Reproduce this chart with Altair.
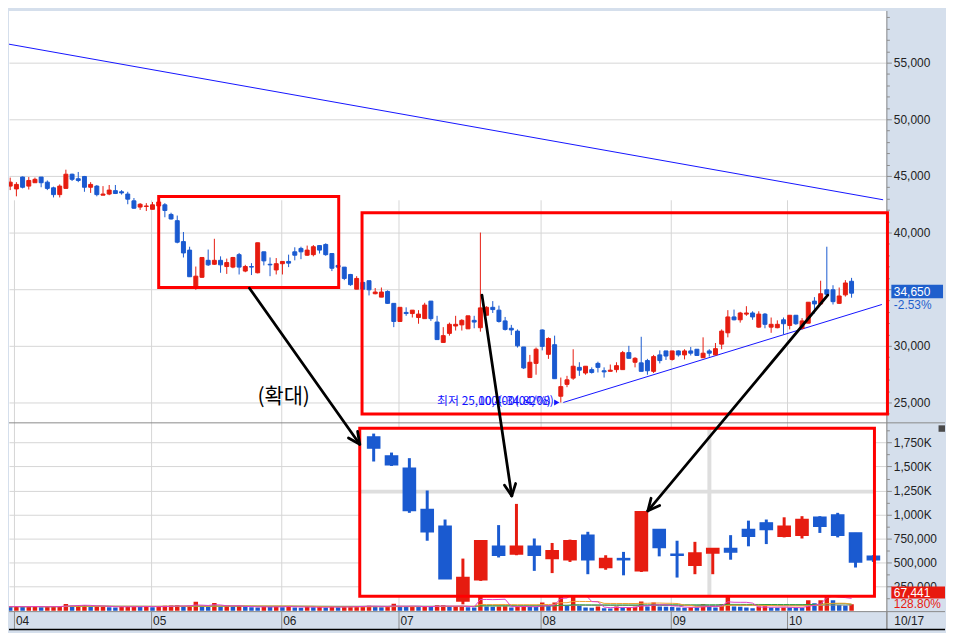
import math
import numpy as np
import pandas as pd
import altair as alt

# ---------------- values ----------------
opens = [44400, 44100, 43850, 44900, 44100, 44400, 44900, 44450, 43950, 43350,
         43900, 45150, 44750, 44950, 44000, 44100, 43300, 43400, 43700, 43600,
         43400, 42800, 42250, 42300, 42050, 42350, 42450, 41600, 41050, 39200,
         38450, 35100, 36050, 37550, 37200, 37550, 37000, 36950, 38050, 36600,
         37000, 36450, 38300, 37200, 36700, 37250, 37450, 38300, 38600, 38000,
         38050, 38850, 38950, 38150, 37100, 36950, 36300, 35000, 35600, 35750,
         34600, 34300, 34800, 33750, 32150, 32950, 32850, 32500, 32400, 33950,
         32100, 30300, 31100, 31750, 31850, 31500, 32250, 31600, 32700, 33400,
         33150, 32200, 31550, 31300, 29900, 27200, 28450, 31400, 29250, 30100,
         25550, 26600, 27150, 28100, 27600, 27900, 28450, 27800, 27750, 27900,
         27900, 29400, 28550, 28500, 28700, 27750, 29200, 29550, 28800, 29550,
         29200, 29550, 29700, 28950, 29550, 29200, 30150, 31150, 32550, 32300,
         32800, 32900, 31650, 32800, 31650, 31600, 32300, 31800, 32700, 31550,
         32000, 33950, 33700, 34950, 34950, 33750, 34500, 35700]
highs = [44600, 44850, 44450, 44950, 44900, 44850, 44900, 44600, 44050, 44250,
         45550, 45200, 45350, 45000, 44450, 44200, 44100, 44200, 44200, 43750,
         43600, 43050, 42600, 42600, 42700, 43150, 42600, 41750, 41500, 40050,
         38750, 37000, 37800, 38500, 39450, 37900, 37700, 37850, 38200, 37150,
         37300, 39100, 38300, 37800, 37750, 37450, 38050, 38700, 38750, 38850,
         38900, 38900, 39050, 38150, 37150, 36950, 36350, 36150, 35650, 35750,
         35100, 35150, 34900, 33750, 33400, 33400, 33150, 33150, 33800, 33950,
         32650, 31650, 32050, 32650, 32350, 32650, 32650, 40000, 33500, 33950,
         33550, 32550, 31850, 31450, 29900, 29200, 29850, 31450, 30750, 30900,
         27200, 27350, 29700, 28550, 28200, 28100, 28600, 28100, 28350, 28550,
         29550, 30000, 29000, 30800, 28850, 29200, 29600, 29550, 29550, 29600,
         29700, 29900, 29700, 30750, 29700, 30250, 31450, 33150, 33200, 33000,
         33500, 33050, 33050, 32900, 32500, 32250, 32500, 32700, 32700, 32450,
         33850, 34300, 35750, 38750, 35350, 35150, 35800, 36000]
lows = [43750, 43750, 43200, 43900, 43800, 44400, 44000, 43750, 43100, 43100,
        43900, 44550, 44450, 43600, 43500, 43200, 43300, 43300, 43400, 43350,
        42500, 42100, 42000, 41900, 42050, 42350, 41350, 41150, 39050, 37800,
        36100, 34950, 36000, 37050, 37150, 36450, 36350, 36850, 36300, 36500,
        36250, 36400, 37100, 36150, 36300, 36300, 36950, 37550, 37650, 37950,
        37900, 38150, 37950, 36600, 36850, 35800, 35300, 35000, 34950, 34450,
        34550, 34300, 33700, 31650, 32150, 32650, 32500, 31950, 32400, 32200,
        30550, 30300, 30900, 31350, 31350, 31500, 31550, 31250, 32700, 32900,
        32050, 31350, 30950, 29850, 27950, 27200, 27450, 29600, 28850, 27100,
        25000, 26350, 27000, 27350, 27450, 27550, 27650, 27200, 27750, 27650,
        27900, 28900, 28100, 27750, 27450, 27600, 28450, 28750, 28700, 29050,
        28800, 29150, 29150, 28950, 29050, 29200, 29700, 30750, 32250, 32050,
        32650, 32300, 31600, 31550, 31150, 31550, 31000, 31450, 31850, 31450,
        32000, 32850, 33650, 34450, 33650, 33700, 34350, 34250]
closes = [44200, 44450, 44250, 44000, 44600, 44700, 44400, 43900, 43350, 44100,
          45150, 44700, 44600, 44000, 44250, 43350, 43400, 43750, 43450, 43500,
          42950, 42150, 42500, 42350, 42450, 42700, 41950, 41200, 39150, 38200,
          36100, 36150, 37800, 37150, 37550, 37150, 37350, 37800, 36950, 37000,
          36950, 39100, 37500, 37150, 37250, 37450, 37300, 38000, 38300, 38450,
          38750, 38450, 38050, 36850, 36950, 35950, 35400, 35950, 35000, 34950,
          34750, 34750, 33750, 32150, 33400, 32850, 33150, 32800, 33600, 32400,
          30550, 30900, 31900, 31900, 32250, 32650, 32100, 33350, 33400, 33200,
          32150, 31450, 31400, 30000, 28050, 28550, 29700, 29950, 30650, 27100,
          26400, 27000, 28200, 27850, 28200, 27650, 28100, 27700, 27850, 28250,
          29400, 28900, 28900, 27750, 27800, 29050, 28700, 29100, 29550, 29200,
          29550, 29350, 29150, 29350, 29350, 29750, 31300, 32550, 32300, 32900,
          32900, 32550, 32800, 31900, 31900, 31900, 31950, 32700, 31950, 32200,
          33850, 33700, 34600, 34550, 33900, 34400, 35550, 34650]
volumes = [42000, 40000, 45000, 38000, 44000, 46000, 36000, 40000, 43000, 47000,
           69000, 52000, 55000, 58000, 40000, 44000, 47000, 36000, 33000, 41000,
           45000, 48000, 37000, 42000, 36000, 45000, 50000, 53000, 56000, 40000,
           52000, 93000, 45000, 38000, 79000, 40000, 50000, 42000, 48000, 38000,
           36000, 34000, 44000, 38000, 46000, 36000, 48000, 33000, 31000, 40000,
           35000, 38000, 34000, 41000, 36000, 40000, 44000, 47000, 49000, 52000,
           40000, 36000, 44000, 72000, 41000, 37000, 45000, 39000, 47000, 42000,
           55000, 56000, 38000, 44000, 48000, 36000, 34000, 420000, 43000, 40000,
           44000, 47000, 33000, 44000, 45000, 40000, 38000, 84000, 50000, 84000,
           380000, 60000, 300000, 50000, 33000, 31000, 43000, 26000, 22000, 43000,
           33000, 36000, 40000, 95000, 43000, 84000, 43000, 40000, 38000, 33000,
           31000, 35000, 33000, 67000, 43000, 33000, 67000, 250000, 43000, 40000,
           33000, 26000, 43000, 45000, 33000, 31000, 34000, 32000, 30000, 28000,
           108000, 77000, 108000, 350000, 108000, 60000, 52361, 67441]

month_grid_idx = [1.61, 23.77, 44.81, 63.76, 86.73, 107.77, 126.56]
month_labels = ["04", "05", "06", "07", "08", "09", "10"]
last_date = "10/17"
price_ticks = [25000, 30000, 35000, 40000, 45000, 50000, 55000, 60000]
vol_ticks = [250000, 500000, 750000, 1000000, 1250000, 1500000, 1750000]

trend_a_idx = [-0.16, 142.1]
trend_a_price = [56725, 42895]
trend_b_idx = [90.4, 141.9]
trend_b_price = [25000, 33650]
low_idx = 90
low_price = 25000
low_label_a = "최저 25,000(-34.82%)"
low_label_b = "10,400(04/08)"

box1_idx = [25.0, 54.1]
box1_price = [35150, 43180]
box2_idx = [57.87, 142.8]
box2_price = [23973, 41754]
inset_idx = [25.22, 54.06]
inset_price = [35313, 42837]
zoom_note = "(확대)"

# ---------------- layout (reference pixels -> chart pixels) ----------------
# the page adds an 8px margin, so the plot starts at reference pixel (8, 8)
REF_X0, REF_Y0 = 8.0, 8.0
REF_X1, REF_Y1 = 891.0, 612.0
W, H = int(REF_X1 - REF_X0), int(REF_Y1 - REF_Y0)


def px(x):
    return x - REF_X0


def py(y):
    return y - REF_Y0


STEP, X_FIRST = 6.226, 3.0


def idx_at(x):
    return (x - X_FIRST) / STEP


def price_at(y):
    return 40000 - (y - 231.0) * 5000 / 57.0


def vol_at(y):
    return (611.5 - y) * 250000 / 24.17


X_MIN, X_MAX = idx_at(REF_X0), idx_at(REF_X1)
P_MIN, P_MAX = price_at(422.0), price_at(REF_Y0)
V_MAX = vol_at(422.0)

RED, BLUE = "#e61c10", "#1a5ad0"
BOX_RED = "#ff0000"
LINE_BLUE = "#1414ff"
GRID = "#d6d6d6"
AXIS_GRAY = "#8c8c8c"
LABEL = "#222222"
NUM_FONT = "Liberation Sans"
KR_FONT = "Noto Sans CJK KR"


def lin(domain, rng):
    return alt.Scale(domain=list(domain), range=list(rng), nice=False, zero=False)


sx = lin([X_MIN, X_MAX], [0, W])
sy_price = lin([P_MIN, P_MAX], [py(422.0), 0])
sy_vol = lin([0, V_MAX], [py(611.5), py(422.0)])
sx_in = lin(inset_idx, [px(361.0), px(879.0)])
sy_in = lin(inset_price, [py(597.0), py(428.0)])
sx_pix = lin([REF_X0, REF_X1], [0, W])
sy_pix = lin([REF_Y0, REF_Y1], [0, H])

n = len(opens)
df = pd.DataFrame({"i": np.arange(n), "o": opens, "h": highs, "l": lows, "c": closes, "v": volumes})
df["dir"] = np.where(df["c"] >= df["o"], "up", "down")
df["vdir"] = ["down"] + ["up" if volumes[k] > volumes[k - 1] else "down" for k in range(1, n)]
base = alt.Chart(df)
dir_scale = alt.Scale(domain=["up", "down"], range=[RED, BLUE])

COMMA = "format(datum.value, ',')"
x_axis = alt.Axis(orient="bottom", values=month_grid_idx + [X_MAX], labels=False, ticks=True,
                  tickSize=py(630.0) - py(612.5), tickColor=AXIS_GRAY, domain=False,
                  grid=True, gridColor=GRID, title=None)
price_axis = alt.Axis(orient="right", values=[p for p in price_ticks if P_MIN < p < P_MAX],
                      labelExpr=COMMA, labelFont=NUM_FONT,
                      labelFontSize=12, labelColor=LABEL, tickSize=5, tickColor=AXIS_GRAY,
                      labelPadding=2, domain=False, grid=True, gridColor=GRID, title=None,
                      labelOverlap=False, labelBound=False, labelFlush=False)
price_minor_axis = alt.Axis(orient="right",
                            values=[p for p in range(24000, 60001, 1000) if p % 5000 and P_MIN < p < P_MAX],
                            labels=False, tickSize=3, tickColor=AXIS_GRAY, domain=False,
                            grid=False, title=None)
vol_axis = alt.Axis(orient="right", values=vol_ticks,
                    labelExpr="datum.value >= 1000000 ? format(datum.value / 1000, ',') + 'K' : format(datum.value, ',')",
                    labelFont=NUM_FONT, labelFontSize=12, labelColor=LABEL, tickSize=5,
                    tickColor=AXIS_GRAY, labelPadding=2, domain=False, grid=True, gridColor=GRID,
                    title=None, labelOverlap=False)
vol_minor_axis = alt.Axis(orient="right", values=[125000 + 250000 * k for k in range(8)],
                          labels=False, tickSize=3, tickColor=AXIS_GRAY, domain=False,
                          grid=False, title=None)

layers = []

# volume bars + moving averages
layers.append(base.transform_calculate(x0="datum.i - 0.36", x1="datum.i + 0.36", zero="0")
              .mark_rect(clip=True).encode(
                  x=alt.X("x0:Q", scale=sx, axis=None), x2="x1:Q",
                  y=alt.Y("v:Q", scale=sy_vol, axis=vol_axis), y2="zero:Q",
                  color=alt.Color("vdir:N", scale=dir_scale, legend=None)))
for k, col in [(120, "#8c8c8c"), (60, "#2e9e3e"), (20, "#f0a030"), (5, "#e040c8")]:
    layers.append(base.transform_window(ma="mean(v)", frame=[-(k - 1), 0], sort=[alt.SortField("i")])
                  .mark_line(strokeWidth=1, color=col, clip=True).encode(
                      x=alt.X("i:Q", scale=sx, axis=None),
                      y=alt.Y("ma:Q", scale=sy_vol, axis=vol_minor_axis if k == 5 else None)))

# trend lines
trend_df = pd.DataFrame({"idx": trend_a_idx + trend_b_idx, "price": trend_a_price + trend_b_price,
                         "line": ["a", "a", "b", "b"]})
layers.append(alt.Chart(trend_df).mark_line(color=LINE_BLUE, strokeWidth=1, clip=True).encode(
    x=alt.X("idx:Q", scale=sx, axis=None),
    y=alt.Y("price:Q", scale=sy_price, axis=price_minor_axis),
    detail="line:N"))

# candles
layers.append(base.mark_rule(strokeWidth=1, clip=True).encode(
    x=alt.X("i:Q", scale=sx, axis=x_axis),
    y=alt.Y("l:Q", scale=sy_price, axis=price_axis), y2="h:Q",
    color=alt.Color("dir:N", scale=dir_scale, legend=None)))
layers.append(base.transform_calculate(x0="datum.i - 0.32", x1="datum.i + 0.32")
              .mark_rect(strokeWidth=1, clip=True).encode(
                  x=alt.X("x0:Q", scale=sx, axis=None), x2="x1:Q",
                  y=alt.Y("o:Q", scale=sy_price, axis=None), y2="c:Q",
                  color=alt.Color("dir:N", scale=dir_scale, legend=None),
                  stroke=alt.Stroke("dir:N", scale=dir_scale, legend=None)))

# low label
low_df = pd.DataFrame({"idx": [low_idx], "price": [low_price]})
layers.append(alt.Chart(low_df).transform_calculate(idx2="datum.idx - 0.65")
              .mark_point(shape="triangle-right", filled=True, size=38, color=LINE_BLUE, opacity=1)
              .encode(x=alt.X("idx2:Q", scale=sx, axis=None),
                      y=alt.Y("price:Q", scale=sy_price, axis=None)))
layers.append(alt.Chart(low_df).mark_text(align="right", baseline="middle", dx=-10, dy=-1,
                                          font=KR_FONT, fontSize=12, color=LINE_BLUE)
              .encode(x=alt.X("idx:Q", scale=sx, axis=None),
                      y=alt.Y("price:Q", scale=sy_price, axis=None), text=alt.value(low_label_a)))
layers.append(alt.Chart(low_df).mark_text(align="left", baseline="middle", dx=-83, dy=-1,
                                          font=KR_FONT, fontSize=12, color=LINE_BLUE)
              .encode(x=alt.X("idx:Q", scale=sx, axis=None),
                      y=alt.Y("price:Q", scale=sy_price, axis=None), text=alt.value(low_label_b)))

# frame lines
frame_gray = pd.DataFrame({"x": [REF_X0, REF_X0, 891.5], "y": [422.5, 612.5, REF_Y0],
                           "x2": [950, 950, 891.5], "y2": [422.5, 612.5, 630]})
frame_black = pd.DataFrame({"x": [REF_X0], "y": [630.5], "x2": [950], "y2": [630.5]})
for fdf, col, sw in [(frame_gray, "#8a8a8a", 1), (frame_black, "#000000", 1.5)]:
    layers.append(alt.Chart(fdf).mark_rule(color=col, strokeWidth=sw).encode(
        x=alt.X("x:Q", scale=sx_pix, axis=None), x2="x2:Q",
        y=alt.Y("y:Q", scale=sy_pix, axis=None), y2="y2:Q"))

# red boxes on the price panel
box_df = pd.DataFrame({"x0": [box1_idx[0], box2_idx[0]], "x1": [box1_idx[1], box2_idx[1]],
                       "p0": [box1_price[0], box2_price[0]], "p1": [box1_price[1], box2_price[1]]})
layers.append(alt.Chart(box_df).mark_rect(fillOpacity=0, stroke=BOX_RED, strokeWidth=3).encode(
    x=alt.X("x0:Q", scale=sx, axis=None), x2="x1:Q",
    y=alt.Y("p0:Q", scale=sy_price, axis=None), y2="p1:Q"))

# zoomed inset
inset_frame = pd.DataFrame({"x0": [inset_idx[0]], "x1": [inset_idx[1]],
                            "p0": [inset_price[0]], "p1": [inset_price[1]]})
layers.append(alt.Chart(inset_frame).mark_rect(color="white", opacity=1).encode(
    x=alt.X("x0:Q", scale=sx_in, axis=None), x2="x1:Q",
    y=alt.Y("p0:Q", scale=sy_in, axis=None), y2="p1:Q"))
hgrid = pd.DataFrame({"x0": inset_idx[0], "x1": inset_idx[1],
                      "p": [p for p in price_ticks if inset_price[0] < p < inset_price[1]]})
vgrid = pd.DataFrame({"idx": [m for m in month_grid_idx if inset_idx[0] < m < inset_idx[1]],
                      "p0": inset_price[0], "p1": inset_price[1]})
layers.append(alt.Chart(hgrid).mark_rule(color="#dedede", strokeWidth=4).encode(
    x=alt.X("x0:Q", scale=sx_in, axis=None), x2="x1:Q",
    y=alt.Y("p:Q", scale=sy_in, axis=None)))
layers.append(alt.Chart(vgrid).mark_rule(color="#dedede", strokeWidth=4).encode(
    x=alt.X("idx:Q", scale=sx_in, axis=None),
    y=alt.Y("p0:Q", scale=sy_in, axis=None), y2="p1:Q"))
ins = base.transform_filter(f"datum.i >= {inset_idx[0]} && datum.i <= {inset_idx[1]}")
layers.append(ins.mark_rule(strokeWidth=3).encode(
    x=alt.X("i:Q", scale=sx_in, axis=None),
    y=alt.Y("l:Q", scale=sy_in, axis=None), y2="h:Q",
    color=alt.Color("dir:N", scale=dir_scale, legend=None)))
layers.append(ins.transform_calculate(x0="datum.i - 0.34", x1="datum.i + 0.34")
              .mark_rect(strokeWidth=1.5).encode(
                  x=alt.X("x0:Q", scale=sx_in, axis=None), x2="x1:Q",
                  y=alt.Y("o:Q", scale=sy_in, axis=None), y2="c:Q",
                  color=alt.Color("dir:N", scale=dir_scale, legend=None),
                  stroke=alt.Stroke("dir:N", scale=dir_scale, legend=None)))
layers.append(alt.Chart(inset_frame).mark_rect(fillOpacity=0, stroke=BOX_RED, strokeWidth=3).encode(
    x=alt.X("x0:Q", scale=sx_in, axis=None), x2="x1:Q",
    y=alt.Y("p0:Q", scale=sy_in, axis=None), y2="p1:Q"))

# arrows (reference pixel coordinates)
arrow_from = [(250, 287), (484, 294), (832, 294)]
arrow_to = [(361, 444), (514, 496), (651, 511)]
segs = []
for (x0, y0), (x1, y1) in zip(arrow_from, arrow_to):
    segs.append((x0, y0, x1, y1))
    ang = math.atan2(y1 - y0, x1 - x0)
    for a in (0.45, -0.45):
        segs.append((x1, y1, x1 - 13 * math.cos(ang - a), y1 - 13 * math.sin(ang - a)))
arrow_df = pd.DataFrame(segs, columns=["x", "y", "x2", "y2"])
layers.append(alt.Chart(arrow_df).mark_rule(color="#000000", strokeWidth=2.8, strokeCap="round").encode(
    x=alt.X("x:Q", scale=sx_pix, axis=None), x2="x2:Q",
    y=alt.Y("y:Q", scale=sy_pix, axis=None), y2="y2:Q"))

note_df = pd.DataFrame({"x": [258], "y": [397], "t": [zoom_note]})
layers.append(alt.Chart(note_df).mark_text(align="left", baseline="middle", font=KR_FONT,
                                           fontSize=21, color="#000000").encode(
    x=alt.X("x:Q", scale=sx_pix, axis=None), y=alt.Y("y:Q", scale=sy_pix, axis=None), text="t:N"))

# x-axis labels
month_df = pd.DataFrame({"idx": month_grid_idx, "label": month_labels})
layers.append(alt.Chart(month_df).mark_text(align="left", baseline="middle", dx=2, font=NUM_FONT,
                                            fontSize=12, color=LABEL).encode(
    x=alt.X("idx:Q", scale=sx, axis=None), y=alt.value(py(622.0)), text="label:N"))
last_df = pd.DataFrame({"idx": [X_MAX], "label": [last_date]})
layers.append(alt.Chart(last_df).mark_text(align="left", baseline="middle", dx=8, font=NUM_FONT,
                                           fontSize=12, color=LABEL).encode(
    x=alt.X("idx:Q", scale=sx, axis=None), y=alt.value(py(622.0)), text="label:N"))

# value tags on the right axis
TAG_BLUE, TAG_RED = "#1f5fcc", "#e8190e"
chg = (closes[-1] / closes[-2] - 1) * 100
vchg = volumes[-1] / volumes[-2] * 100
tag_df = pd.DataFrame({"x0": [896, 896], "x1": [948, 950], "y0": [283.5, 587.3], "y1": [297.0, 599.3],
                       "col": [TAG_BLUE, TAG_RED]})
layers.append(alt.Chart(tag_df).mark_rect().encode(
    x=alt.X("x0:Q", scale=sx_pix, axis=None), x2="x1:Q",
    y=alt.Y("y0:Q", scale=sy_pix, axis=None), y2="y1:Q",
    color=alt.Color("col:N", scale=None, legend=None)))
tagtxt = pd.DataFrame({"x": [898.5, 898.5, 898.5, 898.5], "y": [290.5, 303.5, 593.5, 605.0],
                       "t": [f"{closes[-1]:,}", f"{chg:.2f}%", f"{volumes[-1]:,}", f"{vchg:.2f}%"],
                       "col": ["#ffffff", TAG_BLUE, "#ffffff", TAG_RED]})
layers.append(alt.Chart(tagtxt).mark_text(align="left", baseline="middle", font=NUM_FONT,
                                          fontSize=12).encode(
    x=alt.X("x:Q", scale=sx_pix, axis=None), y=alt.Y("y:Q", scale=sy_pix, axis=None),
    text="t:N", color=alt.Color("col:N", scale=None, legend=None)))
icon_df = pd.DataFrame({"x0": [943.5], "x1": [950.0], "y0": [425.0], "y1": [431.5]})
layers.append(alt.Chart(icon_df).mark_rect(color="#4a4a4a").encode(
    x=alt.X("x0:Q", scale=sx_pix, axis=None), x2="x1:Q",
    y=alt.Y("y0:Q", scale=sy_pix, axis=None), y2="y1:Q"))

chart = (alt.layer(*layers)
         .resolve_scale(x="independent", y="independent", color="independent", stroke="independent")
         .properties(width=W, height=H, padding=0, background="#d5dfec")
         .configure_view(fill="white", strokeWidth=0))

chart.save("out.html", embed_options={"renderer": "svg", "actions": False})
